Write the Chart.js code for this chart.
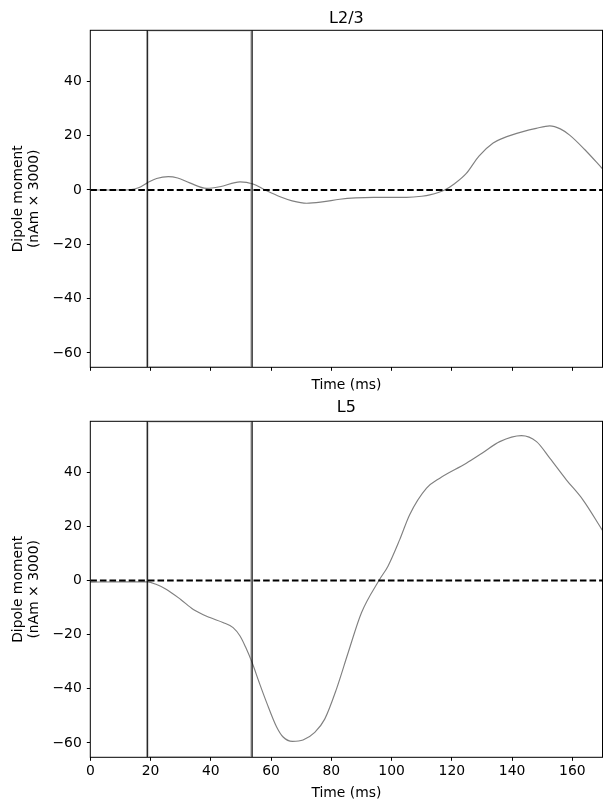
<!DOCTYPE html>
<html>
<head>
<meta charset="utf-8">
<script src="https://cdn.jsdelivr.net/npm/chart.js@4/dist/chart.umd.min.js"></script>
<style>
  html, body { margin: 0; padding: 0; background: #fff; }
  #wrap { position: relative; width: 611px; height: 811px; }
  canvas { position: absolute; left: 0; }
</style>
</head>
<body>
<div id="wrap">
  <canvas id="c1" width="611" height="395" style="top:0px"></canvas>
  <canvas id="c2" width="611" height="416" style="top:395px"></canvas>
</div>
<script>
// ---- data ----
const panelTitles = ['L2/3', 'L5'];
const xTicks = [0, 20, 40, 60, 80, 100, 120, 140, 160];
const yTicks = [-60, -40, -20, 0, 20, 40];
const xRange = [0, 170];
const yRange = [-65.3, 58.8];
const windowMarkers = [18.9, 53.7];

const l23Times = [0, 10, 13, 16, 19.2, 22, 25.9, 29, 33, 38.6, 43, 49.7, 54, 58, 63, 67, 71.8, 77, 82.8, 88, 94, 105, 110, 112.7, 117.6, 121, 124.8, 129, 133.7, 137, 143.6, 148, 152.5, 156, 159.1, 164, 170];
const l23Values = [0, 0, 0.1, 0.8, 2.8, 4.2, 4.9, 4.4, 2.6, 0.6, 1.2, 3.0, 2.2, 0, -2.5, -4.0, -4.9, -4.4, -3.4, -2.9, -2.7, -2.7, -2.3, -1.8, 0, 2.4, 6.1, 12.5, 17.3, 19.1, 21.5, 22.7, 23.6, 22.5, 20.2, 15.0, 7.8];

const l5Times = [0, 10, 18.9, 22, 25.3, 30, 34.2, 39.7, 44, 47.4, 49.7, 51.5, 53.7, 56, 58.5, 61.8, 64, 67.1, 70.6, 74.5, 77.8, 81.7, 85.6, 90, 95.8, 98.8, 102.7, 106, 111.6, 116, 124.8, 130, 135.9, 143.1, 148.1, 152.5, 158, 163.5, 170];
const l5Values = [-0.6, -0.5, -0.5, -1.5, -3.3, -7.0, -10.7, -13.7, -15.5, -17.4, -20.5, -24.5, -30.3, -37.5, -45.0, -54.0, -57.8, -59.4, -58.9, -56.1, -51.2, -40.1, -26.6, -11.9, 0, 5.3, 15.1, 24.3, 34.1, 37.8, 43.3, 47.0, 51.3, 53.5, 51.3, 45.2, 37.2, 29.8, 18.5];

// ---- layout constants ----
const FONT = 'DejaVu Sans';
const AREA_LEFT = 90.3;
const RIGHT_PAD = 8.5;
const LABEL_SIZE = 13.9;
const TITLE_SIZE = 16;

const framePlugin = {
  id: 'frame',
  afterDatasetsDraw(chart) {
    const a = chart.chartArea, ctx = chart.ctx;
    ctx.save();
    ctx.strokeStyle = '#000';
    ctx.lineWidth = 1;
    ctx.strokeRect(a.left, a.top, a.right - a.left, a.bottom - a.top);
    ctx.restore();
  }
};

const titlePlugin = {
  id: 'panelTitle',
  afterDraw(chart, args, opts) {
    const a = chart.chartArea, ctx = chart.ctx;
    ctx.save();
    ctx.fillStyle = '#000';
    ctx.font = TITLE_SIZE + 'px "' + FONT + '"';
    ctx.textAlign = 'center';
    ctx.textBaseline = 'alphabetic';
    ctx.fillText(opts.text, (a.left + a.right) / 2, opts.baseline);
    ctx.restore();
  }
};

function pts(xs, ys) { return xs.map((x, i) => ({x: x, y: ys[i]})); }

function makeChart(id, times, values, title, opts) {
  const datasets = [
    { data: pts(times, values), borderColor: '#808080', borderWidth: 1.15,
      pointRadius: 0, cubicInterpolationMode: 'monotone', order: 3 },
    { data: [{x: xRange[0], y: 0}, {x: xRange[1], y: 0}], borderColor: '#000',
      borderWidth: 2, borderDash: [6.6, 3], pointRadius: 0, order: 2 },
  ];
  windowMarkers.forEach(m => {
    datasets.push({ data: [{x: m, y: yRange[0]}, {x: m, y: yRange[1]}], borderColor: '#000',
      borderWidth: 1.2, pointRadius: 0, order: 1 });
  });
  // light edge of the highlighted window
  datasets.push({ data: [
      {x: windowMarkers[0] + 0.45, y: yRange[0] + 0.3}, {x: windowMarkers[0] + 0.45, y: yRange[1] - 0.3},
      {x: windowMarkers[1] - 0.45, y: yRange[1] - 0.3}, {x: windowMarkers[1] - 0.45, y: yRange[0] + 0.3},
      {x: windowMarkers[0] + 0.45, y: yRange[0] + 0.3}],
    borderColor: '#c8c8c8', borderWidth: 0.8, pointRadius: 0, order: 4, tension: 0 });

  return new Chart(document.getElementById(id), {
    type: 'line',
    data: { datasets: datasets },
    plugins: [framePlugin, titlePlugin],
    options: {
      responsive: false,
      animation: false,
      events: [],
      layout: { padding: { top: opts.top, right: RIGHT_PAD, left: 0, bottom: 0 } },
      plugins: {
        legend: { display: false },
        tooltip: { enabled: false },
        panelTitle: { text: title, baseline: opts.titleBaseline }
      },
      scales: {
        x: {
          type: 'linear', min: xRange[0], max: xRange[1],
          afterBuildTicks: s => { s.ticks = xTicks.map(v => ({value: v})); },
          afterFit: s => { s.height = opts.xHeight; },
          border: { display: false },
          grid: { drawOnChartArea: false, drawTicks: true, tickLength: 3.5, color: '#000', tickWidth: 1 },
          ticks: { display: opts.xLabels, color: '#000', padding: 2.6,
                   font: { family: FONT, size: LABEL_SIZE }, maxRotation: 0, autoSkip: false },
          title: { display: true, text: 'Time (ms)', color: '#000',
                   font: { family: FONT, size: LABEL_SIZE, lineHeight: 1.2 },
                   padding: { top: 0, bottom: opts.xTitlePad } }
        },
        y: {
          type: 'linear', min: yRange[0], max: yRange[1],
          afterBuildTicks: s => { s.ticks = yTicks.map(v => ({value: v})); },
          afterFit: s => { s.width = AREA_LEFT; },
          border: { display: false },
          grid: { drawOnChartArea: false, drawTicks: true, tickLength: 3.5, color: '#000', tickWidth: 1 },
          ticks: { color: '#000', padding: 5, font: { family: FONT, size: LABEL_SIZE },
                   callback: v => String(v).replace('-', '\u2212') },
          title: { display: true, text: ['Dipole moment', '(nAm \u00d7 3000)'], color: '#000',
                   font: { family: FONT, size: LABEL_SIZE, lineHeight: 1.12 },
                   padding: { top: 10.8, bottom: 0 } }
        }
      }
    }
  });
}

makeChart('c1', l23Times, l23Values, panelTitles[0],
  { top: 30.3, xHeight: 395 - 367.3, xLabels: false, xTitlePad: 1.4, titleBaseline: 22.5 });
makeChart('c2', l5Times, l5Values, panelTitles[1],
  { top: 26.3, xHeight: 416 - 362.3, xLabels: true, xTitlePad: 9.4, titleBaseline: 17 });
</script>
</body>
</html>
